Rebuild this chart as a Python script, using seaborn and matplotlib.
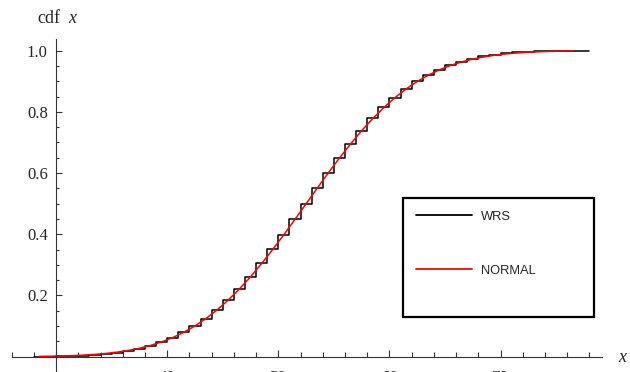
# WRS 분포 cdf vs 정규 근사 cdf
import numpy as np
import pandas as pd
import matplotlib
matplotlib.use("Agg")
import matplotlib.pyplot as plt
import seaborn as sns
from matplotlib.ticker import MultipleLocator, FixedLocator
from matplotlib.patches import Rectangle
from matplotlib.lines import Line2D

# WRS 계단 값 (x = 28 ... 78)
wrs_x = np.arange(28, 79)
wrs_cdf = [0.0003, 0.0006, 0.0012, 0.0020, 0.0035, 0.0055, 0.0087, 0.0131, 0.0189, 0.0265,
           0.0360, 0.0478, 0.0620, 0.0795, 0.1000, 0.1247, 0.1532, 0.1855, 0.2216, 0.2614,
           0.3047, 0.3508, 0.3990, 0.4491, 0.5000, 0.5509, 0.6010, 0.6492, 0.6953, 0.7386,
           0.7784, 0.8145, 0.8468, 0.8753, 0.9000, 0.9205, 0.9380, 0.9522, 0.9640, 0.9735,
           0.9811, 0.9869, 0.9913, 0.9945, 0.9965, 0.9980, 0.9988, 0.9994, 0.9997, 1.0000,
           1.0000]

# 정규 근사 곡선 (x = 28.5 ... 76.5)
normal_x = np.arange(28.5, 77.0, 1.0)
normal_cdf = [0.0011, 0.0016, 0.0025, 0.0036, 0.0053, 0.0076, 0.0107, 0.0149, 0.0205, 0.0276,
              0.0368, 0.0483, 0.0626, 0.0799, 0.1006, 0.1251, 0.1534, 0.1856, 0.2216, 0.2614,
              0.3047, 0.3508, 0.3990, 0.4491, 0.5000, 0.5509, 0.6010, 0.6492, 0.6953, 0.7386,
              0.7784, 0.8144, 0.8466, 0.8749, 0.8994, 0.9201, 0.9374, 0.9517, 0.9632, 0.9724,
              0.9795, 0.9851, 0.9893, 0.9924, 0.9947, 0.9964, 0.9975, 0.9984, 0.9989]

x_major = [40, 50, 60, 70]
y_major = [0.2, 0.4, 0.6, 0.8, 1.0]
legend_labels = ["WRS", "NORMAL"]

df_wrs = pd.DataFrame({"x": wrs_x, "cdf": wrs_cdf})
df_norm = pd.DataFrame({"x": normal_x, "cdf": normal_cdf})

sns.set_style("white")
plt.rcParams["font.family"] = ["Liberation Serif", "DejaVu Serif"]
plt.rcParams["mathtext.fontset"] = "custom"
plt.rcParams["mathtext.rm"] = "Liberation Serif"
plt.rcParams["mathtext.it"] = "Liberation Serif:italic"

fig = plt.figure(figsize=(6.3, 3.72), dpi=100)
ax = fig.add_axes([11.7 / 630, 0.0, 590 / 630, 333 / 372])

sns.lineplot(x="x", y="cdf", data=df_wrs, ax=ax, color="black", lw=1.1,
             drawstyle="steps-post", estimator=None, sort=False)
sns.lineplot(x="x", y="cdf", data=df_norm, ax=ax, color="#ff0000", lw=1.1,
             estimator=None, sort=False)

ax.set_xlim(26, 79.1)
ax.set_ylim(-0.05, 1.038)

# 축을 원점(30, 0)으로
ax.spines["left"].set_position(("data", 30))
ax.spines["bottom"].set_position(("data", 0))
ax.spines["top"].set_visible(False)
ax.spines["right"].set_visible(False)
for s in ["left", "bottom"]:
    ax.spines[s].set_color("#333333")
    ax.spines[s].set_linewidth(0.8)

ax.xaxis.set_major_locator(FixedLocator(x_major))
ax.xaxis.set_minor_locator(MultipleLocator(2))
ax.yaxis.set_major_locator(FixedLocator(y_major))
ax.yaxis.set_minor_locator(MultipleLocator(0.05))
ax.tick_params(axis="both", which="both", direction="in", color="#333333", width=0.8,
               labelsize=12, bottom=True, left=True)
ax.tick_params(axis="x", which="major", length=5.2, pad=9.5)
ax.tick_params(axis="x", which="minor", length=3.3)
ax.tick_params(axis="y", which="major", length=4.5, pad=6)
ax.tick_params(axis="y", which="minor", length=2.5)
ax.set_yticklabels(["0.2", "0.4", "0.6", "0.8", "1.0"])
ax.set_xlabel("")
ax.set_ylabel("")

fig.text(37 / 630, 1 - 18 / 372, "cdf  $x$", fontsize=13, ha="left", va="center")
fig.text(618 / 630, 1 - 358 / 372, "$x$", fontsize=13, ha="left", va="center")

# 범례 박스
fig.patches.append(Rectangle((402.7 / 630, 1 - 316.7 / 372), 191.6 / 630, 118.4 / 372,
                             transform=fig.transFigure, fill=False, edgecolor="black",
                             linewidth=1.6))
handles = [Line2D([], [], color="black", lw=1.3), Line2D([], [], color="#ff0000", lw=1.3)]
fig.legend(handles, legend_labels, loc="upper left", bbox_to_anchor=(416 / 630, 1 - 210.5 / 372),
           frameon=False, borderpad=0, borderaxespad=0, handlelength=4.3, handletextpad=0.75,
           labelspacing=3.28, prop={"family": "Liberation Sans", "size": 9.3})

fig.savefig("out.png", dpi=100)
